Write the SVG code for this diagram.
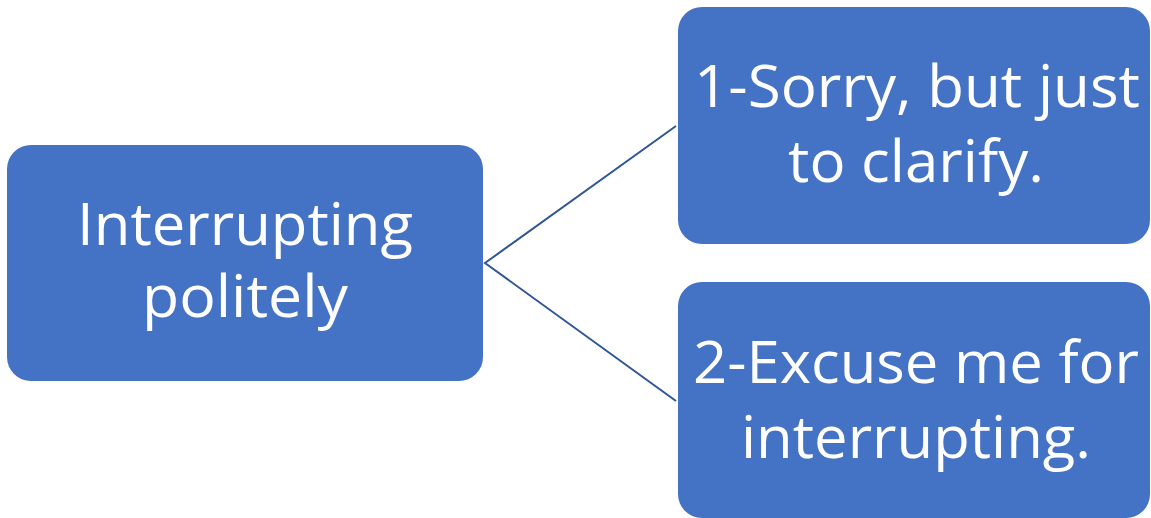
<svg xmlns="http://www.w3.org/2000/svg" width="1151" height="518" viewBox="0 0 1151 518">
<style>
.box{fill:#4472C4}
.lbl{fill:#FFFFFF;font-family:"Open Sans","Liberation Sans",sans-serif;font-size:58px;text-anchor:middle}
.con{stroke:#2F5597;stroke-width:2;fill:none}
</style>
<rect width="1151" height="518" fill="#FFFFFF"/>
<g id="connectors">
<polyline class="con" points="676,126 485,263 676,401"/>
</g>
<g id="node-root">
<rect class="box" x="7" y="145" width="476" height="236" rx="24" ry="24"/>
<text class="lbl" x="245" y="245" textLength="336" lengthAdjust="spacingAndGlyphs">Interrupting</text>
<text class="lbl" x="245" y="317" textLength="206" lengthAdjust="spacingAndGlyphs">politely</text>
</g>
<g id="node-1">
<rect class="box" x="678" y="7" width="472" height="237" rx="24" ry="24"/>
<text class="lbl" x="917" y="107" textLength="446" lengthAdjust="spacingAndGlyphs">1-Sorry, but just</text>
<text class="lbl" x="916" y="182" textLength="256" lengthAdjust="spacingAndGlyphs">to clarify.</text>
</g>
<g id="node-2">
<rect class="box" x="678" y="282" width="472" height="236" rx="24" ry="24"/>
<text class="lbl" x="916" y="383" textLength="446" lengthAdjust="spacingAndGlyphs">2-Excuse me for</text>
<text class="lbl" x="916" y="458" textLength="350" lengthAdjust="spacingAndGlyphs">interrupting.</text>
</g>
</svg>
